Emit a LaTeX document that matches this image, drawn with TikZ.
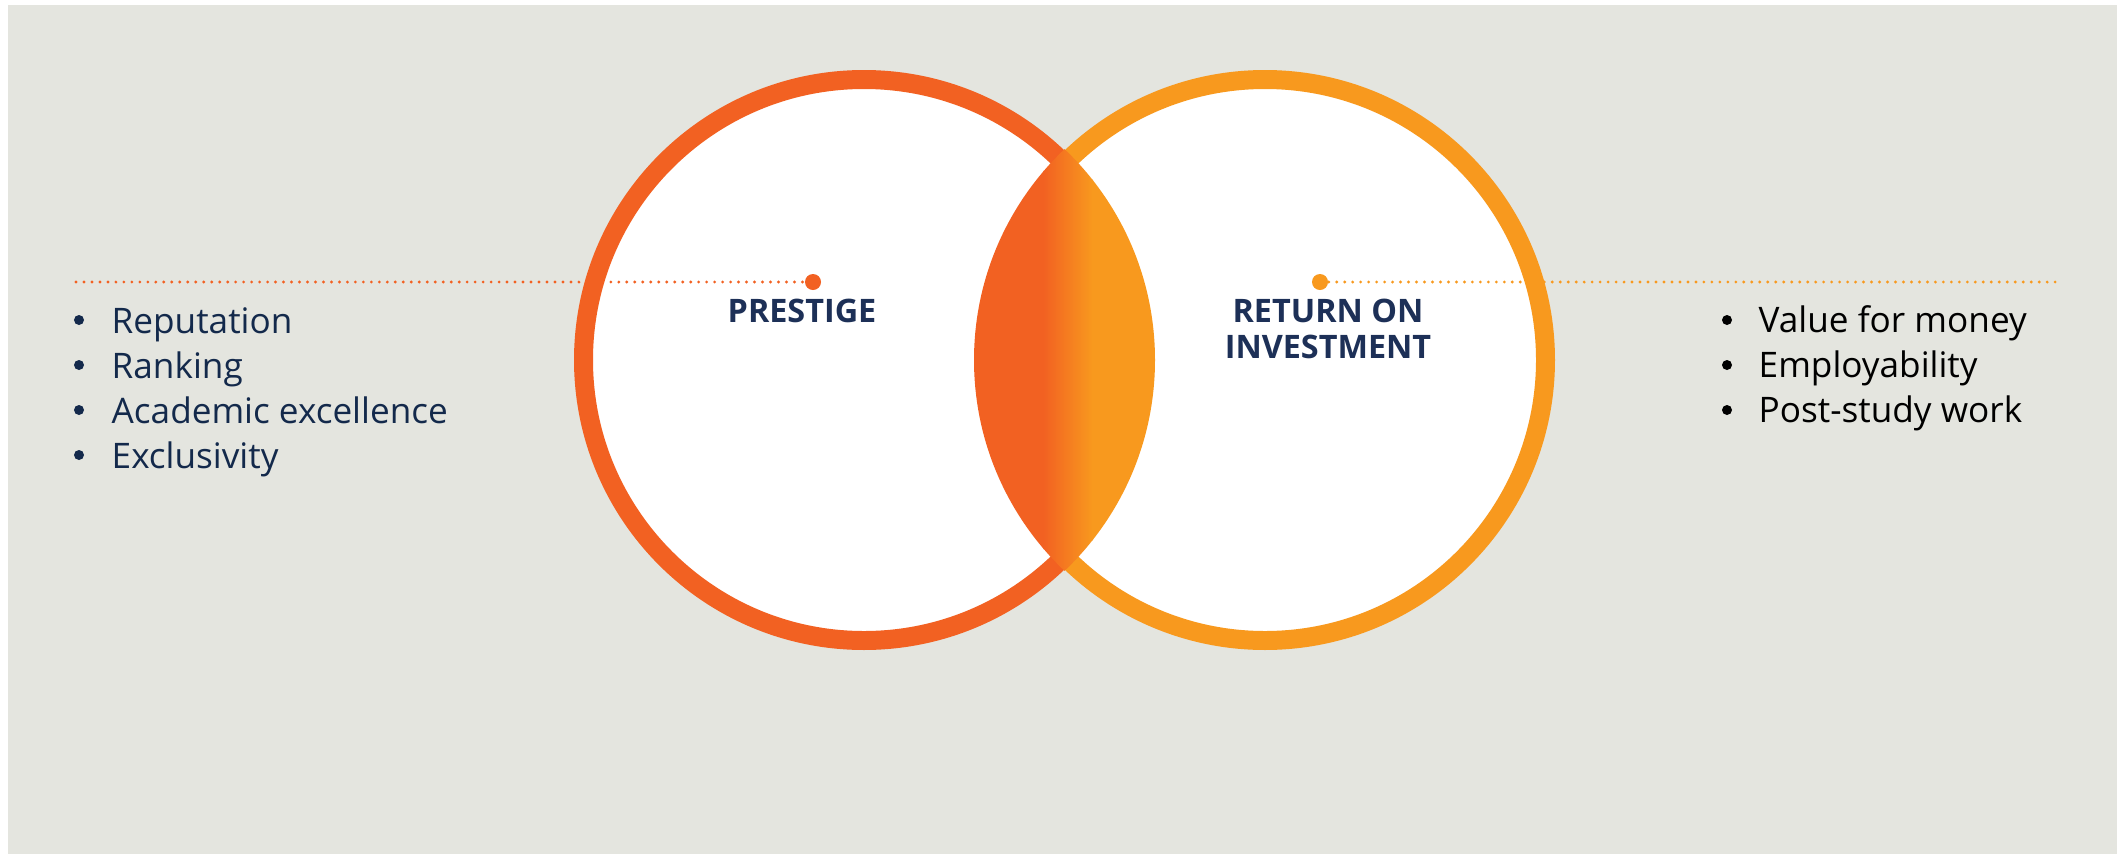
\documentclass[tikz,border=0pt]{standalone}
\usepackage{fontspec}
\setmainfont{Open Sans}
\usepackage{tikz}
\definecolor{ash}{RGB}{228, 229, 223}
\definecolor{flame}{RGB}{242, 97, 34}
\definecolor{tangerine}{RGB}{248, 153, 30}
\definecolor{navy}{RGB}{19, 41, 75}
\definecolor{midnight}{RGB}{29, 48, 87}
\tikzset{
  pindot/.style={circle, inner sep=0pt, minimum size=0.16cm},
  bulletdot/.style={circle, inner sep=0pt, minimum size=0.1cm},
  dottedrule/.style={line width=0.9pt, line cap=round, dash pattern=on 0pt off 2.27pt},
  ring/.style={fill=white, line width=5.4pt},
  itemtext/.style={anchor=base west, inner sep=0pt, font=\fontsize{10}{12}\selectfont},
  titletext/.style={color=midnight, align=center, inner sep=0pt, font=\fontsize{9.2}{10.2}\selectfont\bfseries}
}

\begin{document}
\begin{tikzpicture}[x=0.01cm, y=0.01cm]
            \useasboundingbox                                            (0, 0) rectangle (2117, -854);
            \fill[ash]                                                   (8, -5) rectangle (2117, -854);
            \coordinate (prestige) at (864, -360);
            \coordinate (roi)      at (1265, -360);
            \filldraw[ring, draw=flame]                                  (prestige) circle (280.5);
            \filldraw[ring, draw=tangerine]                              (roi)      circle (280.5);
            \begin{scope}
                \clip (prestige) circle (291);
                \clip (roi)      circle (291);
                \fill[flame]                                             (960, -140) rectangle (1044, -580);
                \shade[left color=flame, right color=tangerine]          (1043, -140) rectangle (1093, -580);
                \fill[tangerine]                                         (1092, -140) rectangle (1170, -580);
            \end{scope}
            \node[pindot, fill=flame]     (prestigedot) at (813, -282)  {};
            \node[pindot, fill=tangerine] (roidot)      at (1320, -282) {};
            \coordinate (prestigeend) at (76, -282);
            \coordinate (roiend)      at (2063, -282);
            \draw[dottedrule, color=flame]                               (prestigeend) -- (prestigedot);
            \draw[dottedrule, color=tangerine]                           (roidot) -- (roiend);
            \node[titletext, anchor=base]  (prestigetitle) at (802, -322)  {PRESTIGE};
            \node[titletext, anchor=north] (roititle)      at (1328, -298) {RETURN ON\\INVESTMENT};
            \node[bulletdot, fill=navy] (reputation)  at (79, -320) {};
            \node[bulletdot, fill=navy] (ranking)     at (79, -365) {};
            \node[bulletdot, fill=navy] (academic)    at (79, -410) {};
            \node[bulletdot, fill=navy] (exclusivity) at (79, -455) {};
            \node[itemtext, color=navy] at (111, -333) {Reputation};
            \node[itemtext, color=navy] at (111, -378) {Ranking};
            \node[itemtext, color=navy] at (111, -423) {Academic excellence};
            \node[itemtext, color=navy] at (111, -468) {Exclusivity};
            \node[bulletdot, fill=black] (value)         at (1727, -320) {};
            \node[bulletdot, fill=black] (employability) at (1727, -365) {};
            \node[bulletdot, fill=black] (poststudy)     at (1727, -410) {};
            \node[itemtext, color=black] at (1758, -332) {Value for money};
            \node[itemtext, color=black] at (1758, -377) {Employability};
            \node[itemtext, color=black] at (1758, -422) {Post-study work};
\end{tikzpicture}
\end{document}
